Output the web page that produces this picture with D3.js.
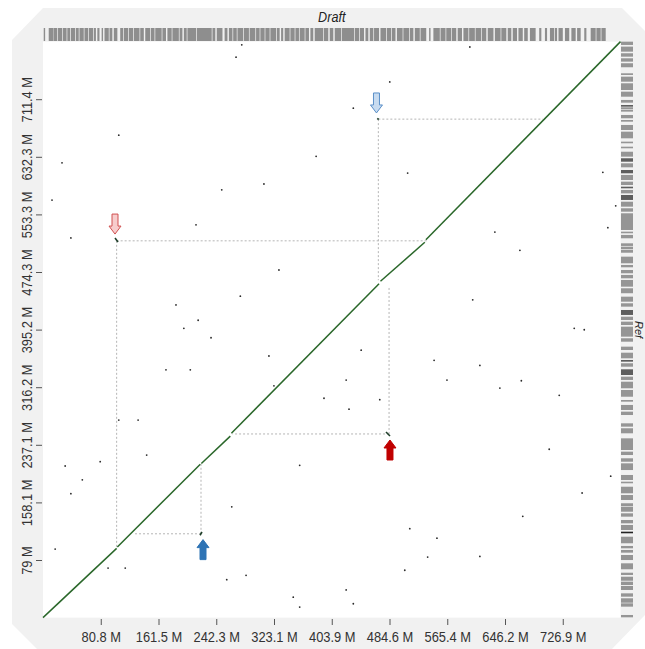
<!DOCTYPE html>
<html>
<head>
<meta charset="utf-8">
<script src="https://cdn.jsdelivr.net/npm/d3@7"></script>
<style>
  html, body { margin: 0; padding: 0; background: #fff; }
  svg { display: block; }
  .tick text { font-family: "Liberation Sans Narrow", "Arial Narrow", "Liberation Sans", Arial, sans-serif; }
</style>
</head>
<body>
<div id="chart"></div>
<script>
// Genome lengths (Mb): draft assembly on x, reference on y
const draftLength = 807.7;
const refLength = 790.4;

const xTickValues = [80.77, 161.54, 242.31, 323.08, 403.85, 484.62, 565.39, 646.16, 726.93];
const xTickLabels = ["80.8 M", "161.5 M", "242.3 M", "323.1 M", "403.9 M", "484.6 M", "565.4 M", "646.2 M", "726.9 M"];
const yTickValues = [79.04, 158.08, 237.12, 316.16, 395.2, 474.24, 553.28, 632.32, 711.36];
const yTickLabels = ["79 M", "158.1 M", "237.1 M", "316.2 M", "395.2 M", "474.3 M", "553.3 M", "632.3 M", "711.4 M"];

// Collinear alignment blocks: [draftStart, draftEnd, refStart, refEnd]
const alignments = [
  [0, 103, 0, 95],
  [104, 220, 97, 210.5],
  [221.5, 262, 211.5, 249],
  [263.5, 470, 253, 458],
  [472, 534, 461.5, 515],
  [535.5, 807.7, 518.5, 790.4]
];

// Displaced pieces: [draftStart, draftEnd, refStart, refEnd]
const displaced = [
  [100.7, 104.9, 520.8, 515.3],
  [467.5, 469.5, 685, 683.5],
  [219.6, 222.4, 113, 117.5],
  [479.7, 485.3, 254.7, 249.2]
];

// Guide lines from each displaced piece to its collinear position: [x, y, xTarget, yTarget]
const guides = [
  [103, 517, 537, 97],
  [469, 684, 699, 463],
  [221, 115, 126, 212],
  [484, 252, 265, 454]
];

// Arrow callouts: piece index and direction
const callouts = [
  { piece: 0, dir: "down", kind: "redOutline" },
  { piece: 1, dir: "down", kind: "blueOutline" },
  { piece: 2, dir: "up", kind: "blueSolid" },
  { piece: 3, dir: "up", kind: "redSolid" }
];

// Scattered short matches: [draft Mb, ref Mb]
const noiseDots = [
  [270, 769], [278, 786], [597, 783], [106, 662], [26.6, 624], [12.6, 573], [39, 521],
  [214, 539], [250, 587], [309, 595], [382, 633], [510, 610], [434, 699], [485, 735],
  [330, 477], [276, 441], [186, 429], [197, 397], [217, 408], [235, 384], [172, 340],
  [206, 340], [316, 359], [445, 367], [106, 271], [133, 271], [145, 223], [80, 214],
  [31, 208], [39, 170], [55, 189], [323, 318], [359, 209], [393, 301], [424, 326],
  [428, 286], [471, 299], [547, 353], [565, 326], [611, 346], [639, 315], [669, 325],
  [722, 305], [743, 397], [757, 395], [783, 611], [801, 565], [790, 535], [632, 529],
  [667, 504], [601, 436], [794, 194], [708, 231], [754, 171], [671, 139], [513, 122],
  [551, 109], [506, 65], [424, 38], [434, 19], [257, 52], [284, 58], [350, 28],
  [359, 14.5], [115, 68], [17, 94], [91, 68], [264, 152], [538, 83], [611, 84]
];

// Draft contigs along the top (Mb)
const draftContigs = [
  [1,3],[8,14],[14.5,20],[21,27],[28,33],[34,38],[39,45],[46,50],[51,57],[58,63],[64,70],[71,74],
  [76,79],[82,84],[86,92],[93,97],[99,104],[108,112],[113,119],[120,126],[127,135],[136,141],
  [143,150],[151,156],[157,166],[167,172],[174,180],[181,190],[191,195],[197,201],[202,214],
  [215,236],[237,241],[243,251],[254,258],[260,265],[266,271],[272,280],[281,288],[289,297],
  [298,303],[304,310],[311,317],[318,326],[327,331],[333,336],[338,345],[346,352],[353,358],
  [359,366],[367,372],[374,378],[380,392],[393,399],[401,406],[408,417],[418,435],[436,442],
  [443,449],[451,455],[457,462],[463,470],[472,480],[481,487],[488,493],[495,503],[504,512],
  [513,518],[520,527],[528,536],[540,542],[546,555],[556,563],[564,571],[572,578],[580,586],
  [588,595],[596,604],[605,613],[614,620],[622,630],[632,640],[641,648],[650,655],[657,663],
  [665,671],[673,678],[681,689],[694,697],[702,705],[709,715],[716,719],[721,727],[730,736],
  [739,745],[747,752],[757,760],[766,773],[774,780],[781,787]
];

// Reference scaffolds along the right (Mb); third value marks darker blocks
const refContigs = [
  [785.8,790.3,0],[776.6,783.5,0],[769.7,774.4,0],[762.9,767.5,0],[755.2,760.7,0],[744.6,746.9,0],
  [735.4,742.3,0],[724,733.2,0],[714.8,721.7,0],[706.6,710.3,0],[701.1,703.4,1],[697.5,700.3,0],
  [694.3,696.6,0],[685.2,689.7,0],[680.5,682.8,0],[669.1,676,0],[657.7,666.8,0],[650.9,653.1,0],
  [644,646.2,0],[632.5,639.3,0],[625.6,630.3,1],[617.9,623.4,0],[609.7,614.2,1],[600.5,607.4,0],
  [593.6,598.2,0],[589.1,591.3,1],[582.2,586.8,0],[573.1,579.9,1],[563.9,570.7,0],[557,561.7,0],
  [531.9,554.8,0],[527.4,529.6,0],[520.5,525.1,0],[510,513.6,0],[505.4,509,0],[500.7,504.4,0],
  [486.2,495.3,0],[480.7,483.9,0],[472.5,477,0],[465.6,470.2,0],[454.1,463.3,0],[445.1,451.9,0],
  [433.5,440.4,0],[426.7,431.3,0],[415.3,422.1,1],[408.4,412.9,0],[401.5,406.1,0],[394.6,399.2,0],
  [385.5,394.7,0],[378.6,383.3,0],[367.2,371.8,0],[355.8,363.5,0],[351.2,353.5,1],[344.3,349,0],
  [332.9,340.7,1],[326.1,330.6,0],[314.7,323.7,0],[303.1,312.3,0],[296.3,298.6,0],[284.9,291.8,0],
  [278,282.6,0],[262,266.6,0],[252.9,259.8,0],[230,246,0],[223.1,227.7,0],[213.9,218.6,0],
  [202.5,211.7,0],[188.8,195.7,0],[184.3,186.5,0],[170.6,179.6,0],[161.4,168.2,0],[153.1,156.9,0],
  [145.3,152.2,0],[138.5,143.1,0],[129.4,133.9,0],[120.2,127.1,0],[115.7,117.9,2],[102,111,0],
  [95.1,98.3,0],[89.1,92.8,0],[79,85.9,0],[66.3,74.5,0],[58.5,61.6,0],[50.6,56.1,0],[44.7,49.3,0],
  [37.9,43.4,0],[28.7,33.3,0],[20.4,26.5,0],[15,19.6,0],[0.4,3.6,0]
];

const W = 645, H = 649;
const plot = { left: 43, right: 620.5, top: 41.6, bottom: 617.6 };
const narrow = "'Liberation Sans Narrow', 'Arial Narrow', 'Liberation Sans', Arial, sans-serif";

const svg = d3.select("#chart").append("svg")
  .attr("width", W).attr("height", H);

// Light grey panel with clipped corners
svg.append("path")
  .attr("d", d3.line()([[43, 8], [622, 8], [646, 32], [646, 614], [611, 650], [38, 650], [12, 624], [12, 40]]) + "Z")
  .attr("fill", "#f1f1f1");

const x = d3.scaleLinear().domain([0, draftLength]).range([plot.left, plot.right]);
const y = d3.scaleLinear().domain([0, refLength]).range([plot.bottom, plot.top]);

// Dot plot area
svg.append("rect")
  .attr("x", plot.left).attr("y", plot.top)
  .attr("width", plot.right - plot.left).attr("height", plot.bottom - plot.top)
  .attr("fill", "#fff");

// Draft contig track (top)
svg.append("g").selectAll("rect").data(draftContigs).join("rect")
  .attr("x", d => x(d[0])).attr("width", d => Math.max(1, x(d[1]) - x(d[0])))
  .attr("y", 28).attr("height", 13)
  .attr("fill", "#8e8e8e");

// Reference track (right)
svg.append("g").selectAll("rect").data(refContigs).join("rect")
  .attr("x", 621).attr("width", 12)
  .attr("y", d => y(d[1])).attr("height", d => Math.max(1, y(d[0]) - y(d[1])))
  .attr("fill", d => d[2] === 2 ? "#222" : d[2] === 1 ? "#5e5e5e" : "#959595");

// Track titles
svg.append("text")
  .attr("transform", `translate(${(plot.left + plot.right) / 2},22) scale(0.9,1)`)
  .attr("text-anchor", "middle")
  .style("font-family", narrow)
  .style("font-style", "italic").style("font-size", "14px").attr("fill", "#222")
  .text("Draft");
svg.append("text")
  .attr("transform", `translate(635,${(plot.top + plot.bottom) / 2}) rotate(90)`)
  .attr("text-anchor", "middle")
  .style("font-family", narrow)
  .style("font-style", "italic").style("font-size", "11px").attr("fill", "#222")
  .text("Ref");

// Axes
const xAxis = d3.axisBottom(x).tickValues(xTickValues)
  .tickFormat((d, i) => xTickLabels[i]).tickSize(6).tickPadding(7);
const gx = svg.append("g").attr("transform", `translate(0,619)`).call(xAxis);
gx.select(".domain").remove();
gx.selectAll(".tick line").attr("stroke", "#555");
gx.selectAll(".tick text").attr("y", 12).attr("transform", "scale(0.86,1)")
  .style("font-size", "15px").attr("fill", "#333");

const yAxis = d3.axisLeft(y).tickValues(yTickValues)
  .tickFormat((d, i) => yTickLabels[i]).tickSize(6);
const gy = svg.append("g").attr("transform", `translate(42,0)`).call(yAxis);
gy.select(".domain").remove();
gy.selectAll(".tick line").attr("stroke", "#555");
gy.selectAll(".tick text")
  .attr("transform", "rotate(-90) scale(0.86,1)").attr("x", 0).attr("y", -10).attr("dy", 0)
  .style("text-anchor", "middle").style("font-size", "15px").attr("fill", "#333");

// Guide lines
const gGuide = svg.append("g").attr("stroke", "#b5b5b5").attr("stroke-width", 1)
  .attr("stroke-dasharray", "2,2").attr("fill", "none");
guides.forEach(g => {
  gGuide.append("line").attr("x1", x(g[0])).attr("y1", y(g[1])).attr("x2", x(g[2])).attr("y2", y(g[1]));
  gGuide.append("line").attr("x1", x(g[0])).attr("y1", y(g[1])).attr("x2", x(g[0])).attr("y2", y(g[3]));
});

// Noise dots
svg.append("g").selectAll("circle").data(noiseDots).join("circle")
  .attr("cx", d => x(d[0])).attr("cy", d => y(d[1])).attr("r", 0.9)
  .attr("fill", "#2a2a2a");

// Alignment blocks
svg.append("g").selectAll("line").data(alignments).join("line")
  .attr("x1", d => x(d[0])).attr("x2", d => x(d[1]))
  .attr("y1", d => y(d[2])).attr("y2", d => y(d[3]))
  .attr("stroke", "#2a672a").attr("stroke-width", 1.5);

svg.append("g").selectAll("line").data(displaced).join("line")
  .attr("x1", d => x(d[0])).attr("x2", d => x(d[1]))
  .attr("y1", d => y(d[2])).attr("y2", d => y(d[3]))
  .attr("stroke", "#1f3f2a").attr("stroke-width", 1.6);

// Block arrows pointing at displaced pieces
const arrowStyle = {
  redOutline: { fill: "#f7cccc", stroke: "#d05050" },
  blueOutline: { fill: "#c7dbf0", stroke: "#5a8fc8" },
  blueSolid: { fill: "#2f74b5", stroke: "#2f74b5" },
  redSolid: { fill: "#c00000", stroke: "#c00000" }
};
function arrowPath(tx, ty, dir) {
  const s = dir === "down" ? -1 : 1; // body extends away from tip
  const hw = 6, sw = 3, hl = 8, len = 20;
  const pts = [
    [tx, ty], [tx + hw, ty + s * hl], [tx + sw, ty + s * hl], [tx + sw, ty + s * len],
    [tx - sw, ty + s * len], [tx - sw, ty + s * hl], [tx - hw, ty + s * hl]
  ];
  return d3.line()(pts) + "Z";
}
svg.append("g").selectAll("path").data(callouts).join("path")
  .attr("d", c => {
    const p = displaced[c.piece];
    const cx = x((p[0] + p[1]) / 2), cy = y((p[2] + p[3]) / 2);
    return c.dir === "down" ? arrowPath(cx - 1.5, cy - 6, "down") : arrowPath(cx + 2, cy + 6, "up");
  })
  .attr("fill", c => arrowStyle[c.kind].fill)
  .attr("stroke", c => arrowStyle[c.kind].stroke)
  .attr("stroke-width", 1);
</script>
</body>
</html>
